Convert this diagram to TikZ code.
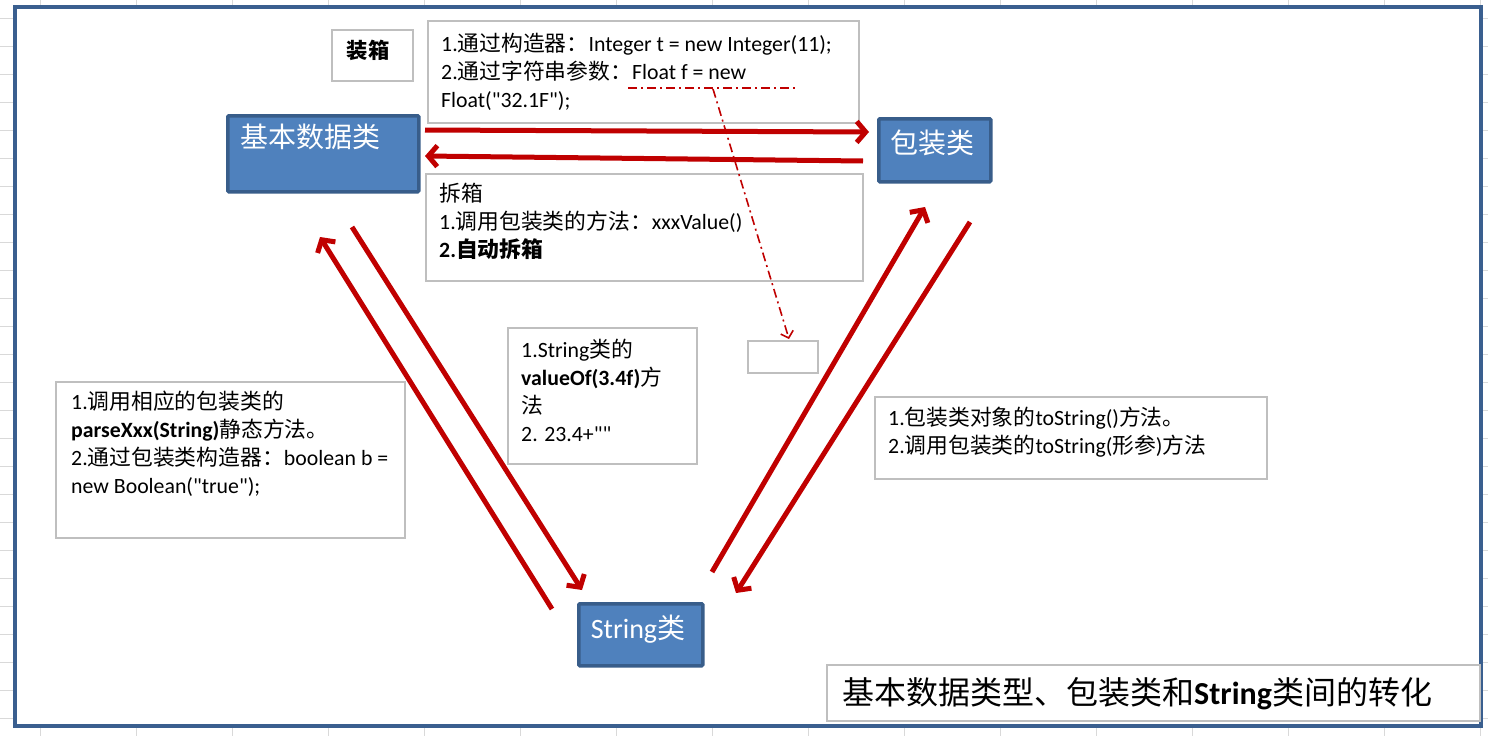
\documentclass[tikz,border=0pt]{standalone}
\usepackage{fontspec}
\setmainfont{Carlito}[Ligatures=TeXOff]
\newfontfamily\cjk{Noto Sans CJK SC}
\newcommand\zh[1]{{\cjk #1}}
\usetikzlibrary{arrows.meta}
\definecolor{frameblue}{HTML}{3A5F8F}
\definecolor{nodeblue}{HTML}{4F81BD}
\definecolor{nodeedge}{HTML}{385D8A}
\definecolor{darkred}{HTML}{C00000}
\definecolor{boxgray}{HTML}{BFBFBF}
\definecolor{gridgray}{HTML}{D9D9D9}
\begin{document}
\begin{tikzpicture}[x=1pt,y=-1pt,
  graybox/.style={draw=boxgray,line width=2pt,fill=white,inner sep=0pt,anchor=north west},
  bluebox/.style={draw=nodeedge,line width=3.5pt,fill=nodeblue,inner sep=0pt,
    rounded corners=1pt,anchor=north west},
  bluelabel/.style={inner sep=0pt,text=white,font=\fontsize{28}{34}\selectfont},
  boxtext/.style={anchor=north west,inner sep=0pt,align=left,font=\fontsize{21.8}{28}\selectfont},
  conv/.style={draw=darkred,line width=5pt,-{Straight Barb[length=9pt,width=21pt]}},
  hint/.style={draw=darkred,line width=1.6pt,dash pattern=on 9pt off 4pt on 2pt off 4pt}
]
\useasboundingbox (0,0) rectangle (1488,736);
% spreadsheet grid
\foreach \gx in {40,136,...,1480} \draw[gridgray,line width=1pt] (\gx,0) -- (\gx,736);
\foreach \gy in {18,46,...,734} \draw[gridgray,line width=1pt] (0,\gy) -- (1488,\gy);
\fill[white] (15,7) rectangle (1481,726);
\draw[frameblue,line width=4pt] (15,7) rectangle (1481,726);

% grey text boxes
\node[graybox,minimum width=81,minimum height=51] (packbox) at (331,29) {};
\node[inner sep=0pt,font=\bfseries\fontsize{21.3}{28}\selectfont] (packlbl) at (368,50) {\zh{装箱}};
\node[graybox,minimum width=431,minimum height=102] (boxbox) at (427,20) {};
\node[boxtext] (boxtxt) at (441,31.4) {\strut1.\zh{通过构造器：}Integer t = new Integer(11);\\
2.\zh{通过字符串参数：}Float f = new\\
Float("32.1F");};
\node[graybox,minimum width=437,minimum height=107] (unbox) at (425,173) {};
\node[boxtext] (unboxtxt) at (439,181.4) {\strut\zh{拆箱}\\
1.\zh{调用包装类的方法：}xxxValue()\\
\textbf{2.\zh{自动拆箱}}};
\node[graybox,minimum width=349,minimum height=156] (parsebox) at (55,381) {};
\node[boxtext] (parsetxt) at (71,389.4) {\strut1.\zh{调用相应的包装类的}\\
\textbf{parseXxx(String)}\zh{静态方法。}\\
2.\zh{通过包装类构造器：}boolean b =\\
new Boolean("true");};
\node[graybox,minimum width=189,minimum height=136] (valbox) at (507,327) {};
\node[boxtext] (valtxt) at (521,337.4) {\strut1.String\zh{类的}\\
\textbf{valueOf(3.4f)}\zh{方}\\
\zh{法}\\
2. 23.4+""};
\node[graybox,minimum width=70,minimum height=32] (emptybox) at (747,340) {};
\node[graybox,minimum width=392,minimum height=82] (tostrbox) at (874,396) {};
\node[boxtext] (tostrtxt) at (888,405.4) {\strut1.\zh{包装类对象的}toString()\zh{方法。}\\
2.\zh{调用包装类的}toString(\zh{形参})\zh{方法}};
\node[graybox,minimum width=653,minimum height=56] (titlebox) at (826,664) {};
\node[anchor=base west,inner sep=0pt,font=\fontsize{32}{38}\selectfont] (titletxt) at (842,704)
  {\zh{基本数据类型、包装类和}\textbf{String}\zh{类间的转化}};

% blue class boxes
\node[bluebox,minimum width=191,minimum height=76] (basic) at (226,114) {};
\node[bluelabel,anchor=west] (basiclbl) at (240,137) {\zh{基本数据类}};
\node[bluebox,minimum width=112,minimum height=63] (wrap) at (877,117) {};
\node[bluelabel] (wraplbl) at (932,143) {\zh{包装类}};
\node[bluebox,minimum width=124,minimum height=62] (str) at (577,602) {};
\node[bluelabel] (strlbl) at (638,629) {String\zh{类}};

% conversion arrows
\coordinate (a1s) at (425,130); \coordinate (a1e) at (869,132);
\coordinate (a2s) at (863,161); \coordinate (a2e) at (425,156);
\coordinate (a3s) at (352,227); \coordinate (a3e) at (582,590);
\coordinate (a4s) at (552,609); \coordinate (a4e) at (320,237);
\coordinate (a5s) at (712,572); \coordinate (a5e) at (925,207);
\coordinate (a6s) at (970,222); \coordinate (a6e) at (736,593);
\draw[conv] (a1s) -- (a1e);
\draw[conv] (a2s) -- (a2e);
\draw[conv] (a3s) -- (a3e);
\draw[conv] (a4s) -- (a4e);
\draw[conv] (a5s) -- (a5e);
\draw[conv] (a6s) -- (a6e);

% dash-dot hint
\coordinate (h1) at (628,88); \coordinate (h2) at (797,88); \coordinate (h3) at (713,89);
\draw[hint] (h1) -- (h2);
\draw[hint,-{Straight Barb[length=6pt,width=13pt]}] (h3) -- ([xshift=6pt,yshift=1pt]emptybox.north);
\end{tikzpicture}
\end{document}
